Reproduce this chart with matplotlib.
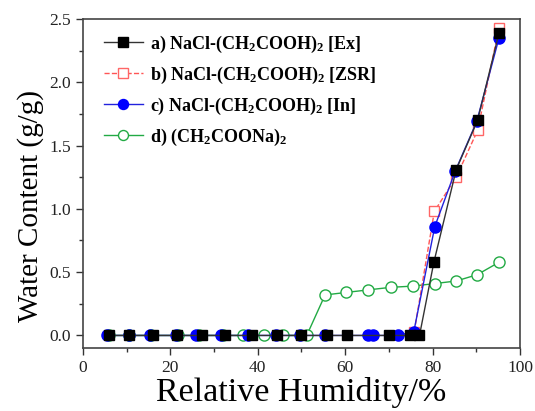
import matplotlib
matplotlib.use("Agg")
import matplotlib.pyplot as plt

# a) NaCl-(CH2COOH)2 [Ex]
rh_a = [6.0, 10.6, 16.1, 21.6, 27.2, 32.6, 38.6, 44.3, 50.0, 55.8, 60.5, 70.1, 74.9, 77.0, 80.3, 85.4, 90.3, 95.2]
wc_a = [0, 0, 0, 0, 0, 0, 0, 0, 0, 0, 0, 0, 0, 0, 0.58, 1.31, 1.70, 2.39]
# b) NaCl-(CH2COOH)2 [ZSR]
rh_b = [75.8, 80.4, 85.4, 90.3, 95.2]
wc_b = [0.03, 0.98, 1.25, 1.62, 2.43]
# c) NaCl-(CH2COOH)2 [In]
rh_c = [5.6, 10.6, 15.3, 21.3, 25.9, 31.7, 37.8, 44.2, 49.7, 55.4, 65.3, 66.4, 72.0, 75.7, 80.5, 85.2, 90.1, 95.2]
wc_c = [0, 0, 0, 0, 0, 0, 0, 0, 0, 0, 0, 0, 0, 0.03, 0.86, 1.30, 1.69, 2.35]
# d) (CH2COONa)2
rh_d = [6.0, 10.6, 15.5, 21.8, 26.5, 32.0, 36.7, 41.5, 45.8, 51.2, 55.4, 60.3, 65.3, 70.4, 75.6, 80.5, 85.4, 90.2, 95.3]
wc_d = [0, 0, 0, 0, 0, 0, 0, 0, 0, 0, 0.32, 0.34, 0.36, 0.38, 0.39, 0.41, 0.43, 0.48, 0.58]

labels = [
    r"a) NaCl-(CH$_\mathbf{2}$COOH)$_\mathbf{2}$ [Ex]",
    r"b) NaCl-(CH$_\mathbf{2}$COOH)$_\mathbf{2}$ [ZSR]",
    r"c) NaCl-(CH$_\mathbf{2}$COOH)$_\mathbf{2}$ [In]",
    r"d) (CH$_\mathbf{2}$COONa)$_\mathbf{2}$",
]

plt.rcParams["font.family"] = "Liberation Serif"
plt.rcParams["mathtext.fontset"] = "custom"
plt.rcParams["mathtext.rm"] = "Liberation Serif:bold"
plt.rcParams["mathtext.bf"] = "Liberation Serif:bold"
plt.rcParams["mathtext.it"] = "Liberation Serif:bold"

fig = plt.figure(figsize=(5.35, 4.11), dpi=100)
ax = fig.add_axes([0.155, 0.153, 0.817, 0.801])

la, = ax.plot(rh_a, wc_a, color="#333333", lw=1.0, marker="s", ms=7.5, mfc="black", mec="black", zorder=5)
lb, = ax.plot(rh_b, wc_b, color="#ff5555", lw=1.0, ls="--", marker="s", ms=7.5, mfc="white", mec="#ff6666", mew=1.0, zorder=3)
lc, = ax.plot(rh_c, wc_c, color="#2222dd", lw=1.0, marker="o", ms=8, mfc="#0000ff", mec="#0000ff", zorder=4)
ld, = ax.plot(rh_d, wc_d, color="#22aa44", lw=1.0, marker="o", ms=8, mfc="white", mec="#22aa44", mew=1.0, zorder=2)

ax.set_xlim(0, 100)
ax.set_ylim(-0.1, 2.5)
ax.set_xticks([0, 20, 40, 60, 80, 100])
ax.set_xticks([10, 30, 50, 70, 90], minor=True)
ax.set_yticks([0.0, 0.5, 1.0, 1.5, 2.0, 2.5])
ax.set_yticklabels(["0.0", "0.5", "1.0", "1.5", "2.0", "2.5"])
ax.set_yticks([0.25, 0.75, 1.25, 1.75, 2.25], minor=True)
ax.tick_params(which="major", direction="out", length=5, width=1, labelsize=12.5, colors="#333333", labelcolor="#222222")
ax.tick_params(which="minor", direction="out", length=3, width=1, colors="#333333")
for s in ax.spines.values():
    s.set_color("#444444")
    s.set_linewidth(1.2)

ax.set_xlabel("Relative Humidity/%", fontsize=24.5, labelpad=1)
ax.set_ylabel("Water Content (g/g)", fontsize=21)
ax.yaxis.set_label_coords(-0.09, 0.432)

leg = ax.legend([la, lb, lc, ld], labels, loc="upper left", bbox_to_anchor=(0.01, 1.005),
                frameon=False, prop={"family": "Liberation Serif", "weight": "bold", "size": 13},
                handlelength=2.2, handletextpad=0.4, labelspacing=0.55, markerscale=0.9)

fig.savefig("out.png", dpi=100)
